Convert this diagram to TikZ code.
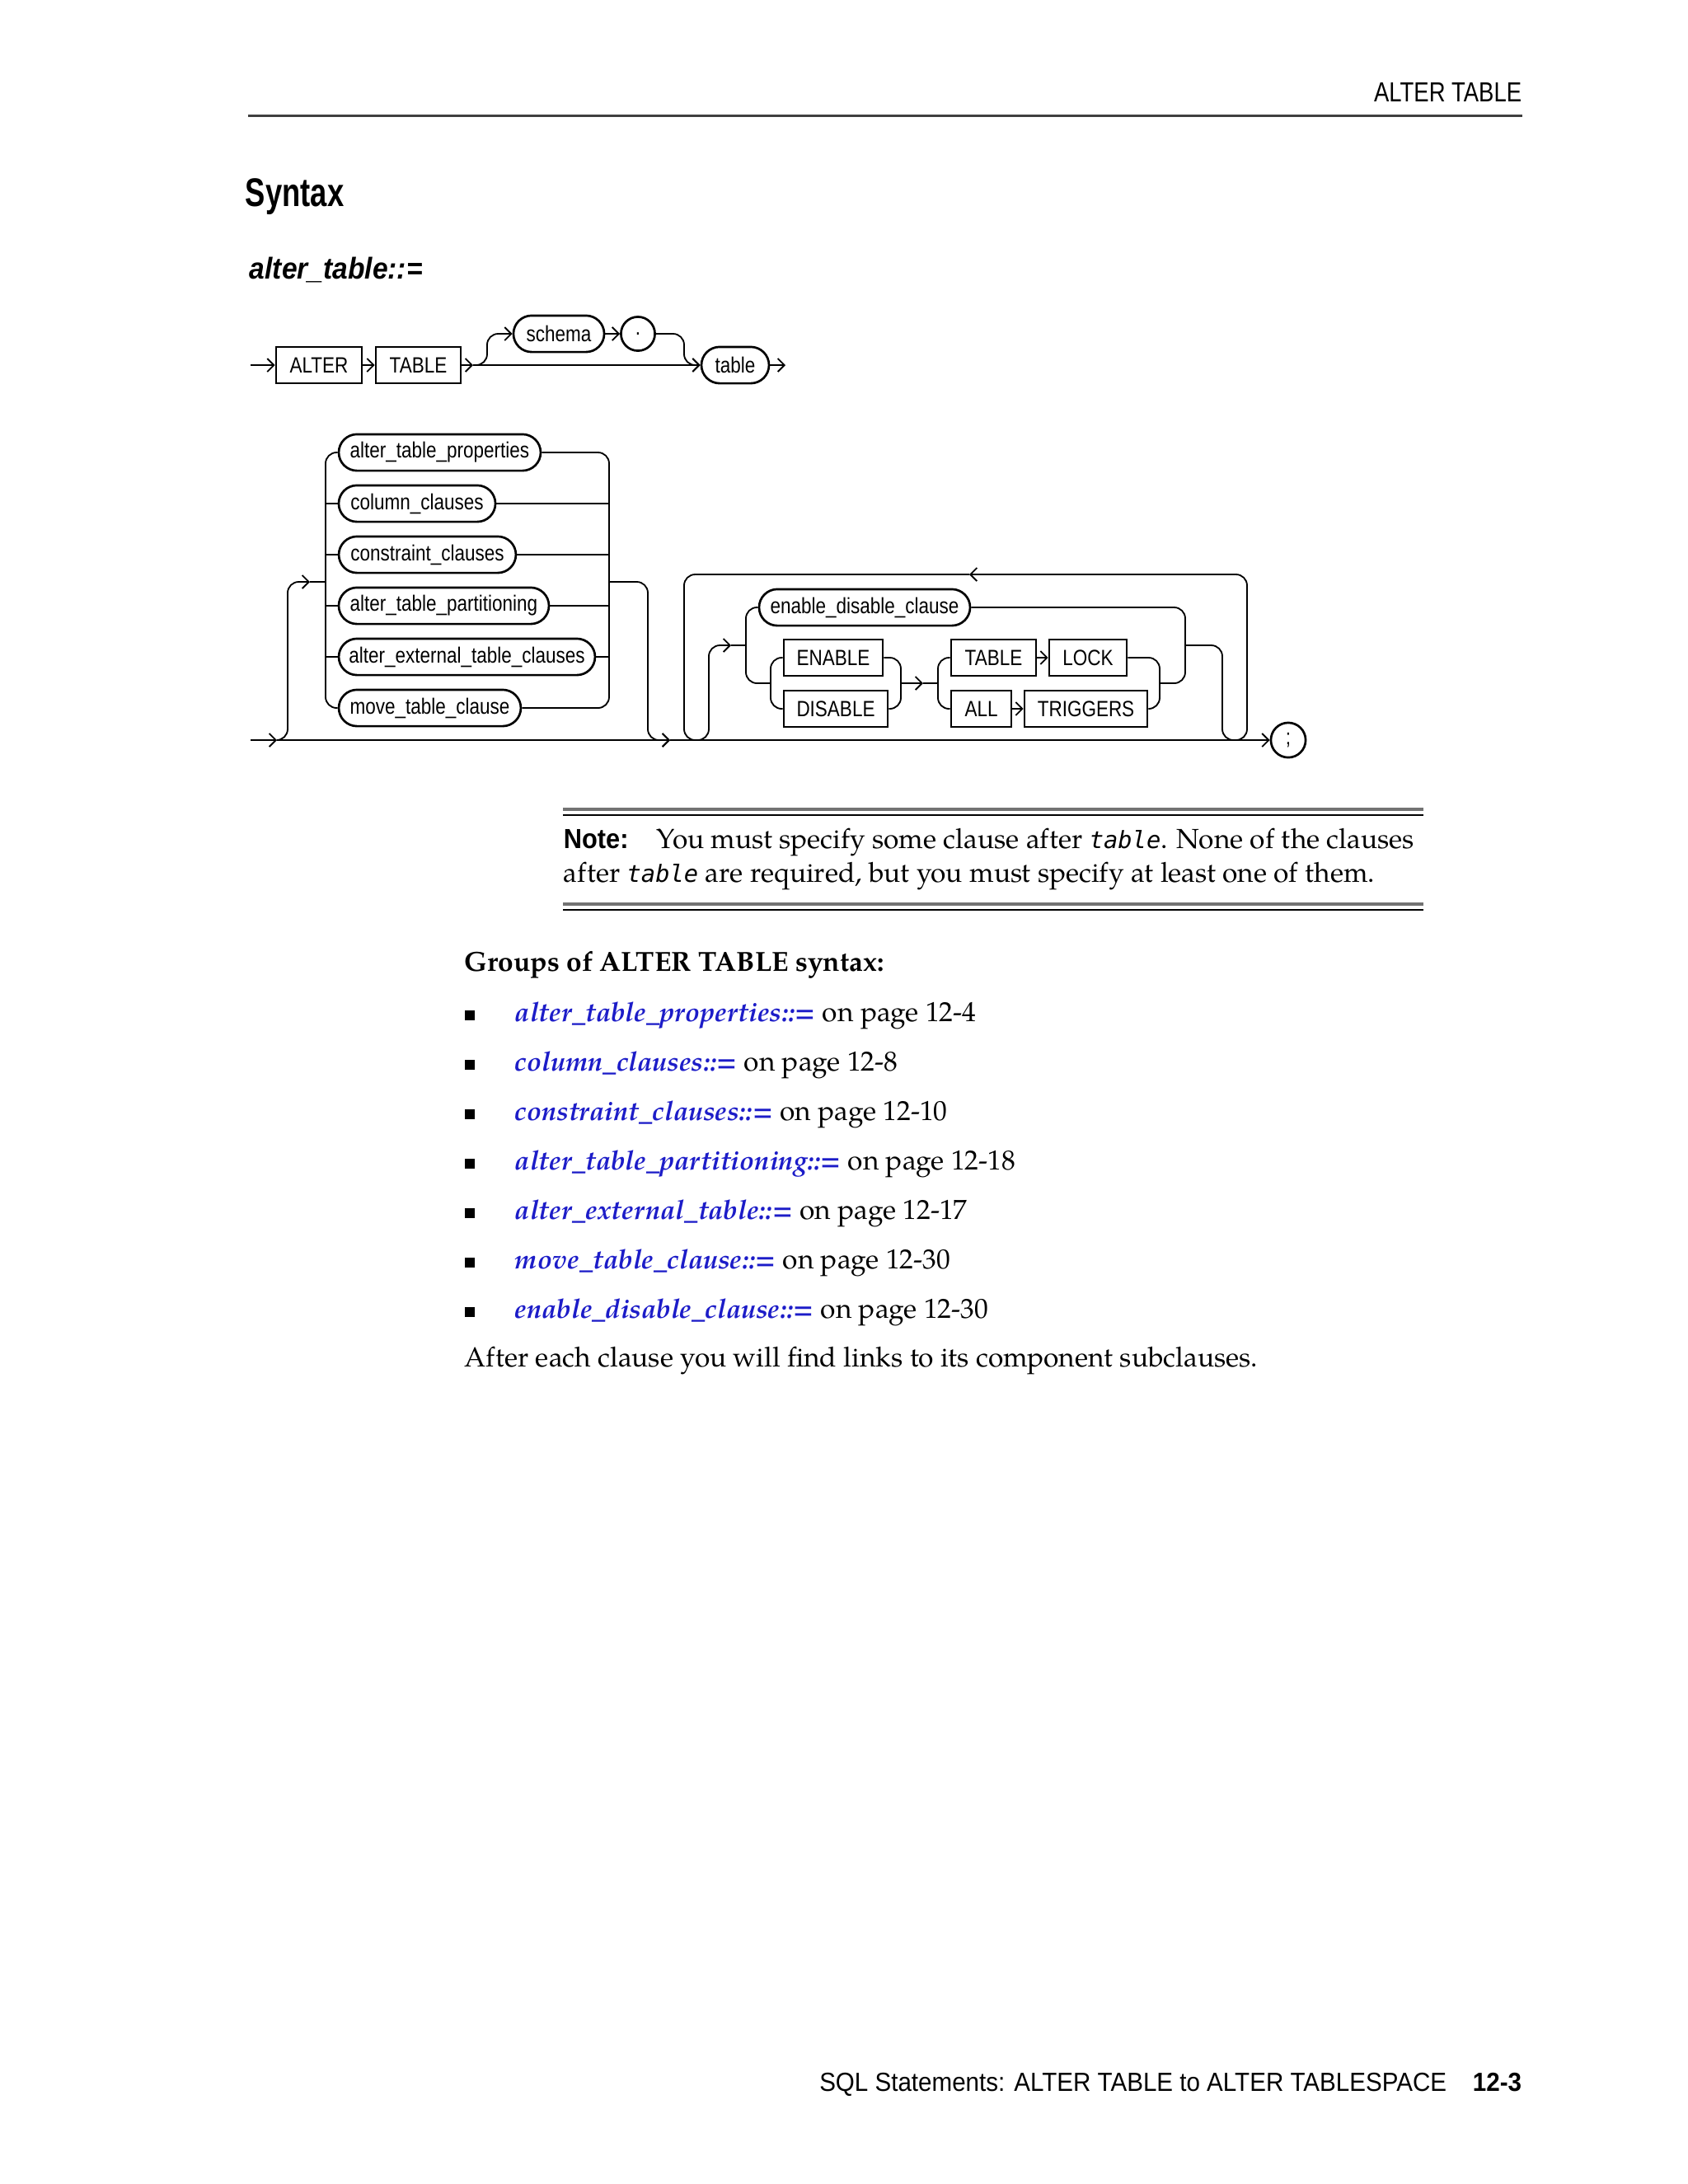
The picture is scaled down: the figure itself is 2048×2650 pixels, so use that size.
\documentclass[tikz,border=0pt]{standalone}
\usepackage{fontspec}
\setmainfont{TeX Gyre Pagella}
\newfontfamily\hfont[FakeStretch=0.82]{Liberation Sans}
\newfontfamily\pfont[FakeStretch=0.92]{Liberation Sans}
\newfontfamily\sfont[FakeStretch=0.75]{Liberation Sans}
\newfontfamily\ffont[FakeStretch=0.93]{Liberation Sans}
\newfontfamily\dfont[FakeStretch=0.84]{Liberation Sans}
\newfontfamily\nfont[FakeStretch=0.92]{Liberation Sans}
\newfontfamily\mfont{DejaVu Sans Mono}
\newcommand\diafnt{\dfont\fontsize{8}{9}\selectfont}
\newcommand\codett[1]{{\mfont\itshape\fontsize{8.6}{12}\selectfont #1}}
\usetikzlibrary{arrows.meta}
\definecolor{linkblue}{RGB}{28,28,200}
\tikzset{
  kwbox/.style={draw, line width=0.8pt, rectangle, minimum height=13.2pt, inner sep=0pt, font=\diafnt},
  ntbox/.style={draw, line width=0.8pt, rectangle, rounded corners=6.6pt, minimum height=13.2pt, inner sep=0pt, font=\diafnt},
  rail/.style={line width=0.55pt, rounded corners=4pt},
  arrowed/.style={-{Straight Barb[length=2.4pt,width=4.8pt]}},
  txt/.style={inner sep=0pt, anchor=base west, font=\fontsize{10}{12}\selectfont},
}
\begin{document}
\begin{tikzpicture}[x=0.2988pt,y=-0.2988pt,line width=0.55pt]
\useasboundingbox[fill=white] (0,0) rectangle (2048,2650);

% ---------- header ----------
\node[inner sep=0pt, anchor=base east, font=\hfont\fontsize{10}{12}\selectfont] (hdr) at (1847,123) {ALTER TABLE};
\draw[line width=0.9pt, black!75] (301,140) -- (1847,140);
\node[txt, font=\sfont\bfseries\fontsize{14.5}{16}\selectfont] (syn) at (297,250) {Syntax};
\node[txt, font=\pfont\bfseries\itshape\fontsize{10.9}{13}\selectfont] (prod) at (302,338) {alter\_table::=};

% ---------- row 1 ----------
\node[kwbox, minimum width=31.1pt] (alter) at (387,443) {ALTER};
\node[kwbox, minimum width=30.8pt] (tkw) at (507.5,443) {TABLE};
\node[ntbox, minimum width=32.9pt] (schema) at (678,405) {schema};
\node[draw, circle, line width=0.8pt, minimum size=12.3pt, inner sep=0pt, font=\diafnt] (dot) at (774,405) {.};
\node[ntbox, minimum width=24.5pt] (tpill) at (892,443) {table};
\coordinate (s0) at (304,443);
\coordinate (s1) at (574,443);
\coordinate (s2) at (953,443);
\draw[arrowed] (s0) -- (alter.west);
\draw[arrowed] (alter.east) -- (tkw.west);
\draw[arrowed] (tkw.east) -- (s1);
\draw[arrowed] (s1) -- (tpill.west);
\draw[rail, arrowed] (s1) -- (591,443) -- (591,405) -- (schema.west);
\draw[arrowed] (schema.east) -- (dot.west);
\draw[rail, arrowed] (dot.east) -- (830,405) -- (830,443) -- (tpill.west);
\draw[arrowed] (tpill.east) -- (s2);

% ---------- row 2: first group ----------
\node[ntbox, minimum width=73.2pt] (p1) at (533.5,549) {alter\_table\_properties};
\node[ntbox, minimum width=56.8pt] (p2) at (506,611) {column\_clauses};
\node[ntbox, minimum width=64.2pt] (p3) at (518.5,673) {constraint\_clauses};
\node[ntbox, minimum width=76.2pt] (p4) at (538.5,735) {alter\_table\_partitioning};
\node[ntbox, minimum width=92.9pt] (p5) at (566.5,797) {alter\_external\_table\_clauses};
\node[ntbox, minimum width=66.0pt] (p6) at (521.5,859) {move\_table\_clause};

\draw[rail] (p1.west) -- (395,549) -- (395,859) -- (p6.west);
\draw (395,611) -- (p2.west);
\draw (395,673) -- (p3.west);
\draw (395,735) -- (p4.west);
\draw (395,797) -- (p5.west);
\draw[rail] (p1.east) -- (739,549) -- (739,859) -- (p6.east);
\draw (p2.east) -- (739,611);
\draw (p3.east) -- (739,673);
\draw (p4.east) -- (739,735);
\draw (p5.east) -- (739,797);

\coordinate (m0) at (304,898);
\coordinate (m1) at (336,898);
\coordinate (m2) at (813,898);
\coordinate (e1) at (376,706);
\draw[arrowed] (m0) -- (m1);
\draw[rail, arrowed] (m1) -- (349,898) -- (349,706) -- (e1);
\draw (e1) -- (395,706);
\draw[rail, arrowed] (739,706) -- (786,706) -- (786,898) -- (m2);
\draw[arrowed] (m1) -- (m2);

% ---------- row 2: second group ----------
\node[ntbox, minimum width=76.5pt] (edc) at (1049,737) {enable\_disable\_clause};
\node[kwbox, minimum width=35.9pt] (en) at (1011,798) {ENABLE};
\node[kwbox, minimum width=37.6pt] (dis) at (1014,860) {DISABLE};
\node[kwbox, minimum width=30.8pt] (tb2) at (1205.5,798) {TABLE};
\node[kwbox, minimum width=21.8pt] (all) at (1190.5,860) {ALL};
\node[kwbox, minimum width=28.1pt] (lock) at (1320,798) {LOCK};
\node[kwbox, minimum width=44.5pt] (trig) at (1317.5,860) {TRIGGERS};
\node[draw, circle, line width=0.8pt, minimum size=12.6pt, inner sep=0pt, font=\diafnt] (semi) at (1563,898) {;};

\draw[arrowed] (m2) -- (semi.west);

% repeat loop
\coordinate (lp) at (1176,697);
\coordinate (l2) at (887,783);
\draw[rail, arrowed] (1438,783) -- (1483,783) -- (1483,898) -- (1513,898) -- (1513,697) -- (lp);
\draw[rail, arrowed] (lp) -- (830,697) -- (830,898) -- (860,898) -- (860,783) -- (l2);
\draw (l2) -- (905,783);

% inner rails
\draw[rail] (edc.west) -- (905,737) -- (905,829) -- (935,829);
\draw[rail] (en.west) -- (935,798) -- (935,860) -- (dis.west);
\draw[rail] (en.east) -- (1093,798) -- (1093,860) -- (dis.east);
\coordinate (l3) at (1120,829);
\draw[arrowed] (1093,829) -- (l3);
\draw (l3) -- (1138,829);
\draw[rail] (tb2.west) -- (1138,798) -- (1138,860) -- (all.west);
\draw[arrowed] (tb2.east) -- (lock.west);
\draw[arrowed] (all.east) -- (trig.west);
\draw[rail] (lock.east) -- (1407,798) -- (1407,860) -- (trig.east);
\draw[rail] (edc.east) -- (1438,737) -- (1438,829) -- (1407,829);

% ---------- note ----------
\draw[line width=1.1pt, black!55] (683,982) -- (1727,982);
\draw[line width=0.6pt] (683,989) -- (1727,989);
\draw[line width=1.1pt, black!55] (683,1097) -- (1727,1097);
\draw[line width=0.6pt] (683,1104) -- (1727,1104);
\node[txt, font=\nfont\bfseries\fontsize{10}{12}\selectfont] (notel) at (683,1029) {Note:};
\node[txt] (note1) at (796,1029) {You must specify some clause after \codett{table}. None of the clauses};
\node[txt] (note2) at (683,1070) {after \codett{table} are required, but you must specify at least one of them.};

% ---------- list ----------
\node[txt] (grp) at (563,1178) {\textbf{Groups of ALTER TABLE syntax:}};
\foreach \nm/\pg [count=\i] in {alter\_table\_properties/12-4, column\_clauses/12-8, constraint\_clauses/12-10, alter\_table\_partitioning/12-18, alter\_external\_table/12-17, move\_table\_clause/12-30, enable\_disable\_clause/12-30}{
  \node[fill, inner sep=0pt, minimum size=3.6pt, anchor=south west] (bu\i) at (563,{1239+(\i-1)*60}) {};
  \node[txt] (it\i) at (624,{1239+(\i-1)*60}) {{\color{linkblue}\bfseries\itshape\fontsize{9.75}{12}\selectfont\nm::=} on page \pg};
}
\node[txt] (after) at (563,1658) {After each clause you will find links to its component subclauses.};

% ---------- footer ----------
\node[inner sep=0pt, anchor=base east, font=\ffont\fontsize{9.5}{11}\selectfont] (foot) at (1847,2537) {SQL Statements: ALTER TABLE to ALTER TABLESPACE\hspace{9.5pt}\textbf{12-3}};
\end{tikzpicture}
\end{document}
